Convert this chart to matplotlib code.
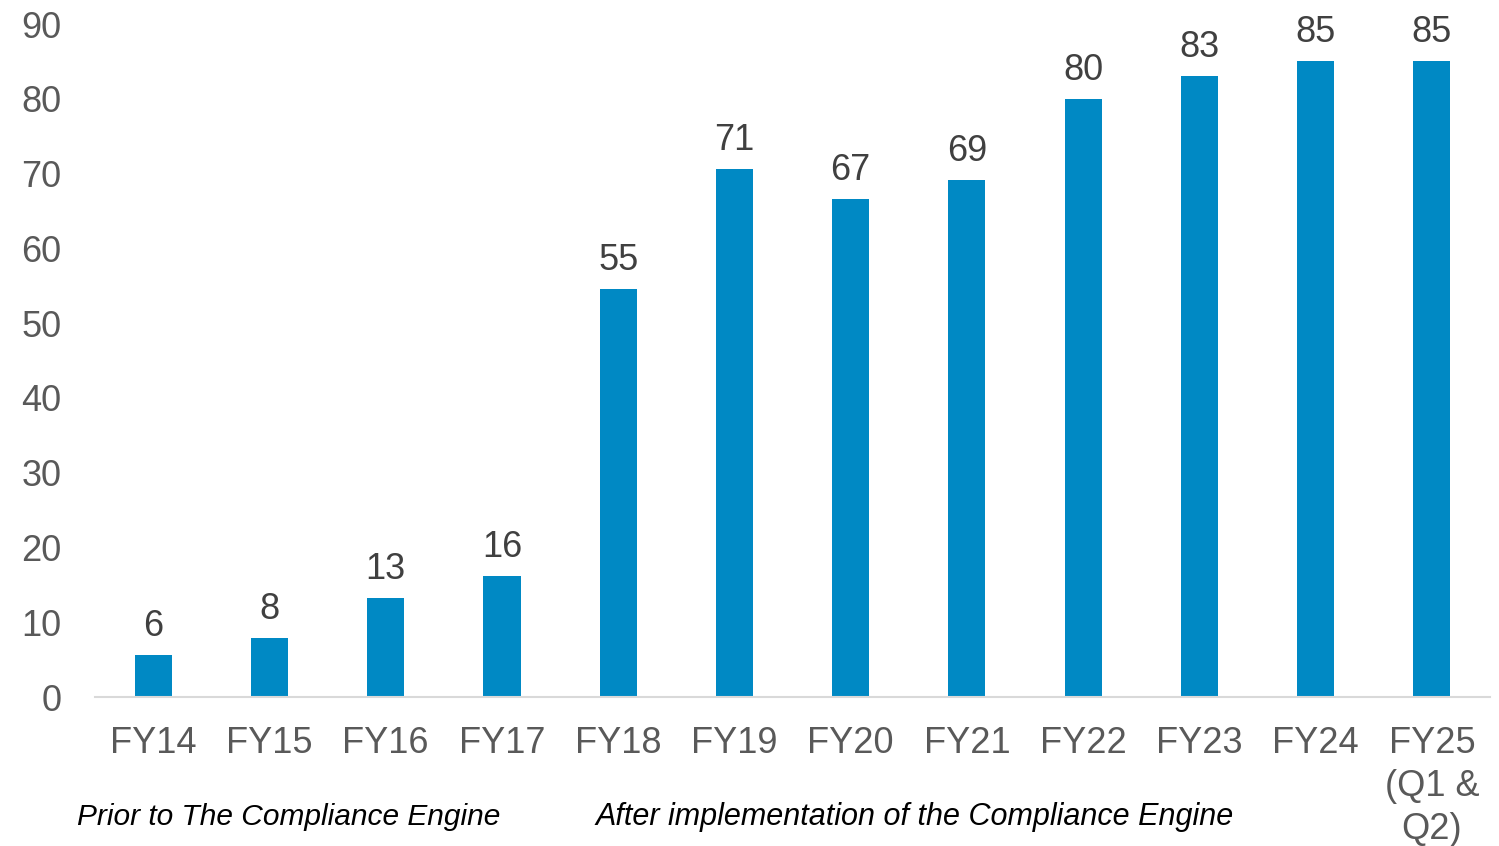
import matplotlib
matplotlib.use("Agg")
import matplotlib.pyplot as plt

categories = ["FY14", "FY15", "FY16", "FY17", "FY18", "FY19", "FY20",
              "FY21", "FY22", "FY23", "FY24", "FY25\n(Q1 &\nQ2)"]
values = [5.6, 7.9, 13.2, 16.2, 54.6, 70.6, 66.6, 69.1, 80.0, 83.1, 85.0, 85.0]
y_ticks = [0, 10, 20, 30, 40, 50, 60, 70, 80, 90]
note_before = "Prior to The Compliance Engine"
note_after = "After implementation of the Compliance Engine"

plt.rcParams['font.family'] = ['Liberation Sans', 'DejaVu Sans']

fig = plt.figure(figsize=(14.99, 8.46), dpi=100)
ax = fig.add_axes([0.0634, 0.1761, 0.9306, 0.7955])

x = list(range(len(categories)))
bars = ax.bar(x, values, width=0.32, color="#0089C4")

# value labels above each bar
for rect, v in zip(bars, values):
    ax.annotate(f"{round(v)}", (rect.get_x() + rect.get_width() / 2, v),
                xytext=(0, 8), textcoords="offset points",
                ha="center", va="bottom", fontsize=26, color="#404040")

ax.set_xlim(-0.5, 11.5)
ax.set_ylim(0, 90)
ax.set_yticks(y_ticks)
ax.set_xticks(x)
ax.set_xticklabels(categories, linespacing=1.3, va="top")
ax.tick_params(axis="both", length=0, labelsize=26, labelcolor="#595959")
ax.tick_params(axis="x", pad=21)
ax.tick_params(axis="y", pad=24)

for side in ["top", "right", "left"]:
    ax.spines[side].set_visible(False)
ax.spines["bottom"].set_color("#D9D9D9")
ax.spines["bottom"].set_linewidth(1.5)

fig.text(77 / 1499, 1 - 817 / 846, note_before, fontsize=21.5, style="italic",
         color="black", va="center", ha="left")
fig.text(595 / 1499, 1 - 817 / 846, note_after, fontsize=22, style="italic",
         color="black", va="center", ha="left")

fig.savefig("out.png", dpi=100)
